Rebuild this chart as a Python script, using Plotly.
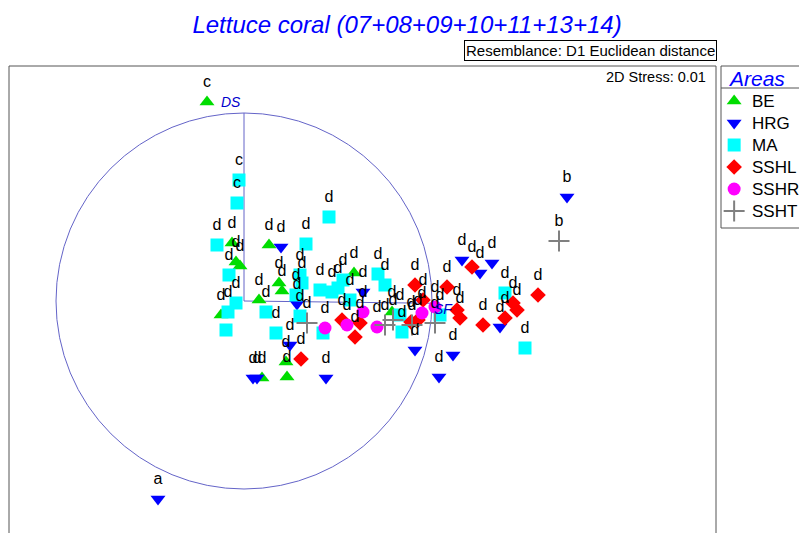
import plotly.graph_objects as go

# ---------------- data ----------------
title_text = "Lettuce coral (07+08+09+10+11+13+14)"
resemblance_text = "Resemblance: D1 Euclidean distance"
stress_text = "2D Stress: 0.01"
legend_title = "Areas"

areas = ["BE", "HRG", "MA", "SSHL", "SSHRM", "SSHT"]

be_x = [-0.37, -0.12, -0.08, -0.04, 0.25, 0.15, -0.23, 0.35, 0.38, 0.42, 0.18, 0.43, 1.10, 1.48]
be_y = [1.99, 0.58, 0.39, 0.35, 0.56, 0.01, -0.14, 0.18, 0.10, -0.61, -0.77, -0.76, 0.28, -0.11]
be_lab = ["c", "d", "d", "d", "d", "d", "d", "d", "d", "d", "d", "d", "d", "d"]

hrg_x = [3.23, -0.86, 0.37, 0.53, 0.46, 0.09, 0.13, 0.82, 1.19, 2.18, 2.36, 2.48, 2.56, 1.71, 2.09, 1.95]
hrg_y = [1.04, -1.98, 0.54, -0.03, -0.44, -0.77, -0.77, -0.77, 0.09, 0.41, 0.28, 0.38, -0.26, -0.49, -0.54, -0.76]
hrg_lab = ["b", "a", "d", "d", "d", "d", "d", "d", "d", "d", "d", "d", "d", "d", "d", "d"]

ma_x = [-0.05, -0.07, 0.85, -0.27, 0.62, -0.15, -0.08, -0.16, -0.18, 0.22, 0.32, 0.52, 0.56, 0.56,
        0.58, 0.76, 0.88, 0.94, 0.99, 1.34, 1.41, 1.06, 0.79, 1.58, 1.56, 1.96, 2.61, 2.81]
ma_y = [1.21, 0.98, 0.84, 0.56, 0.57, 0.26, -0.02, -0.11, -0.29, -0.11, -0.32, 0.06, -0.15, 0.26,
        0.18, 0.11, 0.09, 0.13, 0.21, 0.27, 0.16, 0.01, -0.32, -0.31, -0.14, -0.14, 0.08, -0.47]
ma_lab = ["c", "c", "d", "d", "d", "d", "d", "d", "", "d", "d", "d", "d", "d",
          "d", "d", "d", "d", "d", "d", "d", "d", "", "d", "d", "d", "d", "d"]

sshl_x = [0.57, 0.98, 1.16, 1.11, 1.71, 2.03, 1.79, 1.74, 1.67, 2.28, 2.13, 2.16, 2.39, 2.61, 2.69, 2.73, 2.94]
sshl_y = [-0.58, -0.19, -0.22, -0.36, 0.16, 0.14, 0.01, -0.19, -0.21, 0.34, -0.09, -0.17, -0.24, -0.17, -0.02, -0.09, 0.06]
sshl_lab = ["d"] * 17

sshrm_x = [0.81, 1.03, 1.19, 1.33, 1.78, 1.91]
sshrm_y = [-0.27, -0.24, -0.11, -0.26, -0.12, -0.06]
sshrm_lab = ["d"] * 6

ssht_x = [3.15, 0.63, 1.41, 1.49, 1.68, 1.91]
ssht_y = [0.60, -0.22, -0.24, -0.19, -0.24, -0.22]
ssht_lab = ["b", "d", "d", "d", "d", "d"]

# vector overlay (correlation circle)
vec_names = ["DS", "SF"]
vec_x = [0.0, 1.0]
vec_y = [1.0, -0.012]
circle_radius = 1.88

# ---------------- styles ----------------
series = {
    "BE": (be_x, be_y, be_lab),
    "HRG": (hrg_x, hrg_y, hrg_lab),
    "MA": (ma_x, ma_y, ma_lab),
    "SSHL": (sshl_x, sshl_y, sshl_lab),
    "SSHRM": (sshrm_x, sshrm_y, sshrm_lab),
    "SSHT": (ssht_x, ssht_y, ssht_lab),
}
styles = {
    "BE": dict(symbol="triangle-up", color="#00dd00", size=13),
    "HRG": dict(symbol="triangle-down", color="#0000ff", size=13),
    "MA": dict(symbol="square", color="#00ffff", size=13),
    "SSHL": dict(symbol="diamond", color="#ff0000", size=12),
    "SSHRM": dict(symbol="circle", color="#ff00ff", size=13),
    "SSHT": dict(symbol="cross-thin", color="#808080", size=15),
}
VEC_COLOR = "#6464c8"
FRAME_COLOR = "#555555"
FONT = "Liberation Sans, Arial, sans-serif"

# the page places the figure 8px from the top-left corner of the window
OFF = 8
W, H = 807 - OFF, 533 - OFF


def PX(x):  # window pixel x -> paper fraction
    return (x - OFF) / W


def PY(y):  # window pixel y -> paper fraction
    return (H - (y - OFF)) / H


def marker_for(a):
    s = styles[a]
    if s["symbol"] == "cross-thin":
        return dict(symbol="cross-thin", size=s["size"], line=dict(color=s["color"], width=2))
    return dict(symbol=s["symbol"], size=s["size"], color=s["color"], line=dict(width=0))


fig = go.Figure()

# vectors
for name, vx, vy in zip(vec_names, vec_x, vec_y):
    fig.add_trace(go.Scatter(x=[0, vx * circle_radius], y=[0, vy * circle_radius], mode="lines",
                             line=dict(color=VEC_COLOR, width=1), hoverinfo="skip",
                             showlegend=False, xaxis="x", yaxis="y"))

# markers
for a in areas:
    xs, ys, labs = series[a]
    fig.add_trace(go.Scatter(x=xs, y=ys, mode="markers", name=a, marker=marker_for(a),
                             showlegend=False, xaxis="x", yaxis="y"))

# labels (on top)
for a in areas:
    xs, ys, labs = series[a]
    fig.add_trace(go.Scatter(x=xs, y=ys, mode="markers+text", text=labs, textposition="top center",
                             marker=dict(size=16, opacity=0), hoverinfo="skip",
                             textfont=dict(family=FONT, size=16, color="black"),
                             showlegend=False, xaxis="x", yaxis="y"))

# legend (drawn on a small auxiliary axis)
header_h, row_h = 24, 22
leg_y = [header_h + (i + 0.5) * row_h for i in range(len(areas))]
for i, a in enumerate(areas):
    fig.add_trace(go.Scatter(x=[11], y=[leg_y[i]], mode="markers", marker=marker_for(a),
                             showlegend=False, hoverinfo="skip", xaxis="x2", yaxis="y2"))

annotations = []
for i, a in enumerate(areas):
    annotations.append(dict(x=25, y=leg_y[i], xref="x2", yref="y2", text=a, showarrow=False,
                            xanchor="left", yanchor="middle",
                            font=dict(family=FONT, size=17, color="black")))
annotations.append(dict(x=4, y=12, xref="x2", yref="y2", text=legend_title, showarrow=False,
                        xanchor="left", yanchor="middle",
                        font=dict(family=FONT, size=21, color="#0000ff", style="italic")))

# vector labels
annotations.append(dict(x=vec_x[0] * circle_radius, y=vec_y[0] * circle_radius, xref="x", yref="y",
                        text=vec_names[0], showarrow=False, xanchor="right", yanchor="bottom",
                        xshift=-1, yshift=1,
                        font=dict(family=FONT, size=14, color="#0000cc", style="italic")))
annotations.append(dict(x=vec_x[1] * circle_radius, y=vec_y[1] * circle_radius, xref="x", yref="y",
                        text=vec_names[1], showarrow=False, xanchor="left", yanchor="middle",
                        xshift=0, yshift=-6,
                        font=dict(family=FONT, size=14, color="#0000cc", style="italic")))

# resemblance box & stress
annotations.append(dict(x=PX(717), y=PY(40), xref="paper", yref="paper", text=resemblance_text,
                        showarrow=False, xanchor="right", yanchor="top",
                        bordercolor="black", borderwidth=1, borderpad=1, bgcolor="white",
                        font=dict(family=FONT, size=15, color="black")))
annotations.append(dict(x=PX(708), y=PY(77), xref="paper", yref="paper", text=stress_text,
                        showarrow=False, xanchor="right", yanchor="middle",
                        font=dict(family=FONT, size=14.5, color="black")))


def hline(x0, x1, y):
    return dict(type="line", xref="paper", yref="paper", x0=x0, x1=x1, y0=y, y1=y,
                line=dict(color=FRAME_COLOR, width=1))


def vline(x, y0, y1):
    return dict(type="line", xref="paper", yref="paper", x0=x, x1=x, y0=y0, y1=y1,
                line=dict(color=FRAME_COLOR, width=1))


shapes = [
    # plot frame (bottom edge lies below the window)
    hline(PX(9), PX(716), PY(66)),
    vline(PX(9), -0.02, PY(66)),
    vline(PX(716), -0.02, PY(66)),
    # legend frame (right edge lies beyond the window)
    hline(PX(721), 1.0, PY(66)),
    hline(PX(721), 1.0, PY(88)),
    hline(PX(721), 1.0, PY(228)),
    vline(PX(721), PY(228), PY(66)),
    # correlation circle
    dict(type="circle", xref="x", yref="y", x0=-circle_radius, x1=circle_radius,
         y0=-circle_radius, y1=circle_radius, line=dict(color=VEC_COLOR, width=1), layer="below"),
]

hidden = dict(showgrid=False, zeroline=False, showticklabels=False, ticks="", showline=False)
fig.update_layout(
    width=W, height=H, margin=dict(l=0, r=0, t=0, b=0),
    paper_bgcolor="white", plot_bgcolor="white",
    title=dict(text=title_text, x=PX(407), xanchor="center", y=PY(25), yanchor="middle",
               xref="paper", yref="container",
               font=dict(family=FONT, size=24, color="#0000ff", style="italic")),
    xaxis=dict(domain=[PX(9), PX(716)], range=[-2.35, 4.72], **hidden),
    yaxis=dict(domain=[0, PY(66)], range=[-2.32, 2.35], **hidden),
    xaxis2=dict(domain=[PX(722), 1], range=[0, 85 - OFF], anchor="y2", **hidden),
    yaxis2=dict(domain=[PY(228), PY(66)], range=[162, 0], anchor="x2", **hidden),
    annotations=annotations, shapes=shapes, showlegend=False,
)

fig.write_html("out.html")
